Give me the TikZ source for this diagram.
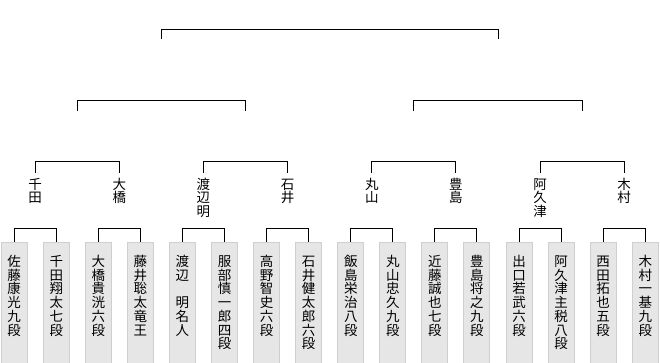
\documentclass[tikz,border=0pt]{standalone}
\usepackage{fontspec}
\newfontfamily\jpfont{Noto Sans CJK JP}
\usetikzlibrary{positioning,calc}
\definecolor{boxfill}{HTML}{E6E6E6}
\definecolor{boxline}{HTML}{CFCFCF}

\begin{document}
\begin{tikzpicture}[x=1pt,y=-1pt,line width=1pt,
   every node/.style={font=\jpfont\fontsize{13.5}{13.7}\selectfont},
   player/.style={draw=boxline,fill=boxfill,line width=1pt,anchor=north,
     minimum width=26pt,text width=15pt,align=center,inner xsep=5.5pt,
     inner ysep=12pt,text height=12pt,text depth=85pt},
   winner/.style={anchor=north,text width=15pt,align=center,
     inner xsep=0pt,inner ysep=4pt,text height=11.5pt}]
  \useasboundingbox (0,0) rectangle (660,362);
  % first round
  \foreach \n [count=\i] in {
     {佐\\藤\\康\\光\\九\\段},{千\\田\\翔\\太\\七\\段},
     {大\\橋\\貴\\洸\\六\\段},{藤\\井\\聡\\太\\竜\\王},
     {渡\\辺\\　\\明\\名\\人},{服\\部\\慎\\一\\郎\\四\\段},
     {高\\野\\智\\史\\六\\段},{石\\井\\健\\太\\郎\\六\\段},
     {飯\\島\\栄\\治\\八\\段},{丸\\山\\忠\\久\\九\\段},
     {近\\藤\\誠\\也\\七\\段},{豊\\島\\将\\之\\九\\段},
     {出\\口\\若\\武\\六\\段},{阿\\久\\津\\主\\税\\八\\段},
     {西\\田\\拓\\也\\五\\段},{木\\村\\一\\基\\九\\段}}
    \node[player] (p\i) at ({14.2+42.07*(\i-1)},242) {\n};
  % second round
  \foreach \n [count=\i] in {{千\\田},{大\\橋},{渡\\辺\\明},{石\\井},
     {丸\\山},{豊\\島},{阿\\久\\津},{木\\村}}
    \node[winner] (w\i) at ({35.2+84.14*(\i-1)},173) {\n};
  % open slots
  \foreach \i in {1,...,4}
    \coordinate (s\i) at ({77.3+168.28*(\i-1)},111);
  \coordinate (t1) at (161.5,39);
  \coordinate (t2) at (498,39);
  % brackets
  \foreach \i [evaluate=\i as \j using int(\i+1)] in {1,3,...,15}
    \draw (p\i.north) -- ++(0,-14) -| (p\j.north);
  \foreach \i [evaluate=\i as \j using int(\i+1)] in {1,3,5,7}
    \draw (w\i.north) -- ++(0,-12) -| (w\j.north);
  \draw (s1) -- ++(0,-11) -| (s2);
  \draw (s3) -- ++(0,-11) -| (s4);
  \draw (t1) -- ++(0,-10) -| (t2);
\end{tikzpicture}
\end{document}
